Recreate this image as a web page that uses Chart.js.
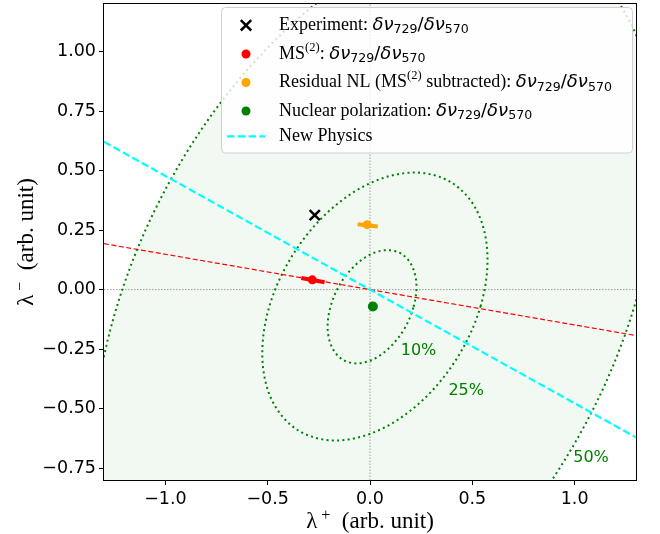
<!DOCTYPE html>
<html>
<head>
<meta charset="utf-8">
<script src="https://cdn.jsdelivr.net/npm/chart.js@4/dist/chart.umd.min.js"></script>
<style>
  html, body { margin: 0; padding: 0; background: #ffffff; }
  #wrap { width: 660px; height: 534px; }
</style>
</head>
<body>
<div id="wrap"><canvas id="chart" width="660" height="534"></canvas></div>
<script>
// Axis ranges and ticks
const xRange = [-1.3, 1.3];
const yRange = [-0.8, 1.2];
const xTicks = [-1.0, -0.5, 0.0, 0.5, 1.0];
const xTickLabels = ['\u22121.0', '\u22120.5', '0.0', '0.5', '1.0'];
const yTicks = [-0.75, -0.5, -0.25, 0.0, 0.25, 0.5, 0.75, 1.0];
const yTickLabels = ['\u22120.75', '\u22120.50', '\u22120.25', '0.00', '0.25', '0.50', '0.75', '1.00'];

// Contours around the nuclear-polarization point (points around each closed loop)
const contour10 = [[0.213,-0.072],[0.227,0.019],[0.207,0.096],[0.158,0.148],[0.086,0.166],[0.003,0.148],[-0.080,0.096],[-0.149,0.019],[-0.193,-0.072],[-0.207,-0.163],[-0.187,-0.240],[-0.138,-0.292],[-0.066,-0.310],[0.018,-0.292],[0.100,-0.240],[0.169,-0.163]];
const contour25 = [[0.540,-0.071],[0.574,0.145],[0.525,0.327],[0.400,0.449],[0.217,0.492],[0.005,0.449],[-0.204,0.327],[-0.378,0.145],[-0.492,-0.071],[-0.526,-0.287],[-0.477,-0.469],[-0.352,-0.591],[-0.169,-0.634],[0.043,-0.591],[0.252,-0.469],[0.426,-0.287]];
const contour50 = [[1.292,-0.071],[1.409,0.531],[1.315,1.040],[1.027,1.381],[0.585,1.500],[0.058,1.381],[-0.473,1.040],[-0.928,0.531],[-1.237,-0.071],[-1.354,-0.673],[-1.260,-1.182],[-0.972,-1.523],[-0.530,-1.642],[-0.003,-1.523],[0.528,-1.182],[0.982,-0.673]];
const contourLevels = ['10%', '25%', '50%'];
const contourLabelX = [0.237, 0.470, 1.080];
const contourLabelY = [-0.256, -0.424, -0.709];

// Ratios δν729/δν570 in the (λ+, λ−) plane
const experiment = [-0.270, 0.313];
const ms2 = [-0.282, 0.041];
const ms2Err = [[-0.336, 0.049], [-0.222, 0.031]];
const residualNL = [-0.014, 0.273];
const residualErr = [[-0.060, 0.275], [0.038, 0.265]];
const nuclearPol = [0.014, -0.071];

// Straight lines through the origin, end points on the plot edges
const ms2Line = [[-1.3, 0.193], [1.3, -0.193]];
const newPhysicsLine = [[-1.3, 0.621], [1.3, -0.621]];
const zeroLineX = [[0, -0.8], [0, 1.2]];
const zeroLineY = [[-1.3, 0], [1.3, 0]];

const GREEN = '#008000';
const toXY = pts => pts.map(p => ({ x: p[0], y: p[1] }));

// Closed loop with one extra point on each side so the spline closes smoothly
function loopPoints(pts) {
  const n = pts.length;
  return toXY([pts[n - 1], ...pts, pts[0], pts[1]]);
}

function contourDataset(pts, order) {
  const data = loopPoints(pts);
  const last = data.length - 2;
  return {
    data, showLine: true, order,
    borderColor: GREEN, borderWidth: 2, borderDash: [2, 3.3],
    pointRadius: 0, pointHoverRadius: 0, fill: false, tension: 0.34, clip: 0,
    segment: {
      borderColor: c => (c.p0DataIndex === 0 || c.p0DataIndex === last) ? 'rgba(0,0,0,0)' : undefined
    }
  };
}

function lineDataset(pts, color, width, dash, order) {
  return {
    data: toXY(pts), showLine: true, order,
    borderColor: color, borderWidth: width, borderDash: dash,
    pointRadius: 0, pointHoverRadius: 0, fill: false, tension: 0, clip: 0
  };
}

function pointDataset(p, style, radius, color, bw, order) {
  return {
    data: toXY([p]), showLine: false, order,
    pointStyle: style, pointRadius: radius, pointHoverRadius: radius,
    backgroundColor: color, borderColor: color, pointBorderWidth: bw, borderWidth: bw
  };
}

const datasets = [
  // shaded region inside the 50% contour
  {
    data: loopPoints(contour50), showLine: true, order: 20,
    borderWidth: 0, borderColor: 'rgba(0,0,0,0)', backgroundColor: 'rgba(0,128,0,0.05)',
    fill: 'shape', pointRadius: 0, pointHoverRadius: 0, tension: 0.34
  },
  lineDataset(zeroLineX, '#9a9a9a', 1, [1.5, 1.5], 19),
  lineDataset(zeroLineY, '#9a9a9a', 1, [1.5, 1.5], 19),
  contourDataset(contour50, 18),
  contourDataset(contour25, 18),
  contourDataset(contour10, 18),
  lineDataset(ms2Line, '#ff0000', 1.2, [5, 2.5], 16),
  lineDataset(newPhysicsLine, '#00ffff', 2.2, [7.5, 3.3], 15),
  lineDataset(ms2Err, '#ff0000', 4, [], 12),
  lineDataset(residualErr, '#ffa500', 4, [], 12),
  pointDataset(experiment, 'crossRot', 7.2, '#000000', 2.5, 5),
  pointDataset(ms2, 'circle', 4.5, '#ff0000', 0, 5),
  pointDataset(residualNL, 'circle', 4.5, '#ffa500', 0, 5),
  pointDataset(nuclearPol, 'circle', 5, GREEN, 0, 5)
];

// Legend entries
const SERIF = "'Liberation Serif', 'Times New Roman', serif";
const SANS = "'DejaVu Sans', sans-serif";
const fText = `18px ${SERIF}`;
const fMath = `italic 18px ${SANS}`;
const fSub = `12.6px ${SANS}`;
const fSup = `12.6px ${SERIF}`;
const ratioRuns = [
  { t: '\u03b4\u03bd', f: fMath }, { t: '729', f: fSub, dy: 3.5 },
  { t: '/', f: `18px ${SANS}` },
  { t: '\u03b4\u03bd', f: fMath }, { t: '570', f: fSub, dy: 3.5 }
];
const legendRows = [
  { mark: 'x', color: '#000000', runs: [{ t: 'Experiment: ', f: fText }, ...ratioRuns] },
  { mark: 'dot', color: '#ff0000', runs: [{ t: 'MS', f: fText }, { t: '(2)', f: fSup, dy: -8 }, { t: ': ', f: fText }, ...ratioRuns] },
  { mark: 'dot', color: '#ffa500', runs: [{ t: 'Residual NL (MS', f: fText }, { t: '(2)', f: fSup, dy: -8 }, { t: ' subtracted): ', f: fText }, ...ratioRuns] },
  { mark: 'dot', color: GREEN, runs: [{ t: 'Nuclear polarization: ', f: fText }, ...ratioRuns] },
  { mark: 'dash', color: '#00ffff', runs: [{ t: 'New Physics', f: fText }] }
];
const legendRowY = [25.3, 54, 82.5, 111, 136.4];

function drawRuns(ctx, x, y, runs) {
  for (const r of runs) {
    ctx.font = r.f;
    ctx.fillText(r.t, x, y + (r.dy || 0));
    x += ctx.measureText(r.t).width;
  }
  return x;
}
function runsWidth(ctx, runs) {
  let w = 0;
  for (const r of runs) { ctx.font = r.f; w += ctx.measureText(r.t).width; }
  return w;
}

function roundRect(ctx, x, y, w, h, r) {
  ctx.beginPath();
  ctx.moveTo(x + r, y);
  ctx.lineTo(x + w - r, y); ctx.arcTo(x + w, y, x + w, y + r, r);
  ctx.lineTo(x + w, y + h - r); ctx.arcTo(x + w, y + h, x + w - r, y + h, r);
  ctx.lineTo(x + r, y + h); ctx.arcTo(x, y + h, x, y + h - r, r);
  ctx.lineTo(x, y + r); ctx.arcTo(x, y, x + r, y, r);
  ctx.closePath();
}

const titleX = [{ t: '\u03bb', f: `23px ${SERIF}` }, { t: ' +', f: `16px ${SERIF}`, dy: -8 }, { t: '  (arb. unit)', f: `23px ${SERIF}` }];
const titleY = [{ t: '\u03bb', f: `23px ${SERIF}` }, { t: ' \u2212', f: `16px ${SERIF}`, dy: -8 }, { t: '  (arb. unit)', f: `23px ${SERIF}` }];

const decorations = {
  id: 'decorations',
  afterDraw(chart) {
    const { ctx, chartArea: a, scales: { x, y } } = chart;
    ctx.save();

    // contour level labels
    ctx.fillStyle = GREEN;
    ctx.font = `16px ${SANS}`;
    ctx.textAlign = 'center';
    ctx.textBaseline = 'middle';
    contourLevels.forEach((t, i) => {
      ctx.fillText(t, x.getPixelForValue(contourLabelX[i]), y.getPixelForValue(contourLabelY[i]));
    });

    // axes frame
    ctx.strokeStyle = '#000000';
    ctx.lineWidth = 1;
    ctx.setLineDash([]);
    ctx.strokeRect(a.left - 0.5, a.top - 0.5, a.right - a.left + 1, a.bottom - a.top + 1);

    // legend box
    roundRect(ctx, 221.5, 7.5, 411, 145.5, 4);
    ctx.fillStyle = 'rgba(255,255,255,0.8)';
    ctx.fill();
    ctx.strokeStyle = '#d0d0d0';
    ctx.lineWidth = 1;
    ctx.stroke();

    ctx.textAlign = 'left';
    ctx.textBaseline = 'alphabetic';
    legendRows.forEach((row, i) => {
      const cy = legendRowY[i];
      const mx = 246;
      ctx.setLineDash([]);
      if (row.mark === 'x') {
        ctx.strokeStyle = row.color; ctx.lineWidth = 2.5;
        ctx.beginPath();
        ctx.moveTo(mx - 5.2, cy - 5.2); ctx.lineTo(mx + 5.2, cy + 5.2);
        ctx.moveTo(mx - 5.2, cy + 5.2); ctx.lineTo(mx + 5.2, cy - 5.2);
        ctx.stroke();
      } else if (row.mark === 'dot') {
        ctx.fillStyle = row.color;
        ctx.beginPath(); ctx.arc(mx, cy, 4.5, 0, Math.PI * 2); ctx.fill();
      } else {
        ctx.strokeStyle = row.color; ctx.lineWidth = 2.2;
        ctx.setLineDash([7.5, 3.3]);
        ctx.beginPath(); ctx.moveTo(227, cy); ctx.lineTo(265, cy); ctx.stroke();
        ctx.setLineDash([]);
      }
      ctx.fillStyle = '#000000';
      drawRuns(ctx, 279, cy + 4.5, row.runs);
    });

    // axis titles
    ctx.fillStyle = '#000000';
    const cx = (a.left + a.right) / 2;
    drawRuns(ctx, cx - runsWidth(ctx, titleX) / 2, 528, titleX);
    ctx.save();
    ctx.translate(33, (a.top + a.bottom) / 2);
    ctx.rotate(-Math.PI / 2);
    drawRuns(ctx, -runsWidth(ctx, titleY) / 2, 0, titleY);
    ctx.restore();

    ctx.restore();
  }
};

const tickFont = { family: 'DejaVu Sans', size: 17.5 };

new Chart(document.getElementById('chart'), {
  type: 'scatter',
  data: { datasets },
  options: {
    responsive: false,
    animation: false,
    devicePixelRatio: 1,
    layout: { autoPadding: false, padding: { left: 0, right: 24, top: 4, bottom: 0 } },
    elements: { line: { capBezierPoints: false } },
    plugins: { legend: { display: false }, tooltip: { enabled: false } },
    scales: {
      x: {
        type: 'linear', min: xRange[0], max: xRange[1],
        afterBuildTicks: s => { s.ticks = xTicks.map(v => ({ value: v })); },
        afterFit: s => { s.height = 54; s.paddingLeft = 0; s.paddingRight = 0; },
        ticks: {
          autoSkip: false, maxRotation: 0, padding: 4, color: '#000000', font: tickFont,
          callback: v => xTickLabels[xTicks.indexOf(v)]
        },
        grid: { display: true, drawOnChartArea: false, drawTicks: true, tickLength: 5, tickColor: '#000000', tickWidth: 1 },
        border: { display: false },
        title: { display: false }
      },
      y: {
        type: 'linear', min: yRange[0], max: yRange[1],
        afterBuildTicks: s => { s.ticks = yTicks.map(v => ({ value: v })); },
        afterFit: s => { s.width = 104; s.paddingTop = 0; s.paddingBottom = 0; },
        ticks: {
          autoSkip: false, padding: 3, color: '#000000', font: tickFont,
          callback: v => yTickLabels[yTicks.indexOf(v)]
        },
        grid: { display: true, drawOnChartArea: false, drawTicks: true, tickLength: 5, tickColor: '#000000', tickWidth: 1 },
        border: { display: false },
        title: { display: false }
      }
    }
  },
  plugins: [decorations]
});
</script>
</body>
</html>
